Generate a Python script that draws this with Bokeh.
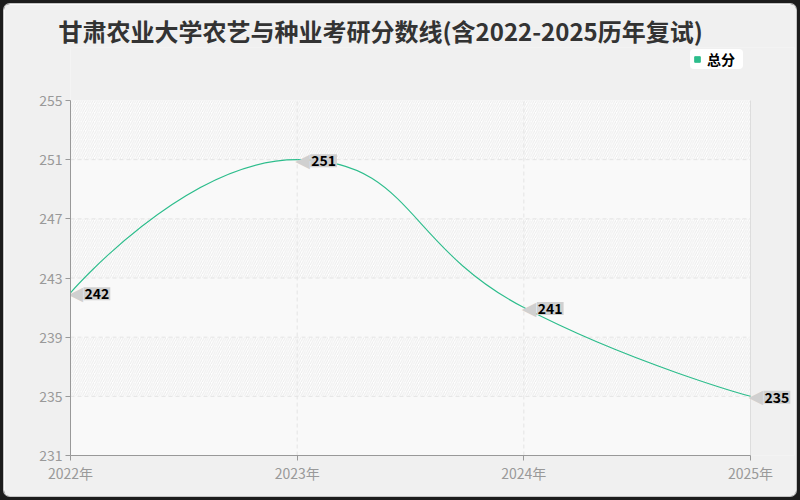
import math
from bokeh.plotting import figure
from bokeh.models import FixedTicker, Legend, LegendItem, Range1d
from bokeh.core.properties import value
from bokeh.embed import file_html
from bokeh.resources import INLINE

# ---- data ----
title_text = "甘肃农业大学农艺与种业考研分数线(含2022-2025历年复试)"
series_name = "总分"
years = [2022, 2023, 2024, 2025]
year_labels = ["2022年", "2023年", "2024年", "2025年"]
scores = [242, 251, 241, 235]
y_ticks = [231, 235, 239, 243, 247, 251, 255]
grid_y = [235, 239, 243, 247, 251]
grid_x = [2023, 2024]

# ---- layout / style ----
OFF = 4                       # dark page frame around the figure
W, H = 800 - 2 * OFF, 500 - 2 * OFF
X_LO, X_HI = 2022, 2025       # plot area (data)
Y_LO, Y_HI = 231, 255
PA_L, PA_R, PA_T, PA_B = 70, 750, 100, 455   # plot area in window pixels
FR_T, FR_R = 47, 794                        # frame extends above / right of plot area
SXPX = (PA_R - PA_L) / (X_HI - X_LO)
SYPX = (PA_B - PA_T) / (Y_HI - Y_LO)
ML = PA_L - OFF
MR = (800 - OFF) - FR_R
MT = FR_T - OFF
MB = (500 - OFF) - PA_B
XR_HI = X_HI + (FR_R - PA_R) / SXPX
YR_HI = Y_HI + (PA_T - FR_T) / SYPX

GREEN = "#2dbd8c"
FONT = "Noto Sans CJK SC"
GREY = "#999999"


def smooth_segments(xs, ys, smooth=0.5):
    """ECharts-style smoothed bezier segments, computed in pixel-proportional space."""
    P = [(x * SXPX, y * SYPX) for x, y in zip(xs, ys)]
    n = len(P)
    segs = []
    cp0 = P[0]
    for i in range(1, n):
        x, y = P[i]
        px, py = P[i - 1]
        if i == n - 1:
            cp1 = (x, y)
            ncp0 = None
        else:
            nx, ny = P[i + 1]
            vx, vy = nx - px, ny - py
            lp = math.hypot(x - px, y - py)
            ln = math.hypot(nx - x, ny - y)
            r = ln / (ln + lp)
            ncx = x + vx * smooth * r
            ncy = y + vy * smooth * r
            ncx = max(min(ncx, max(nx, x)), min(nx, x))
            ncy = max(min(ncy, max(ny, y)), min(ny, y))
            vx, vy = ncx - x, ncy - y
            c1x = x - vx * lp / ln
            c1y = y - vy * lp / ln
            c1x = max(min(c1x, max(px, x)), min(px, x))
            c1y = max(min(c1y, max(py, y)), min(py, y))
            vx, vy = x - c1x, y - c1y
            ncp0 = (x + vx * ln / lp, y + vy * ln / lp)
            cp1 = (c1x, c1y)
        segs.append((P[i - 1], cp0, cp1, P[i]))
        cp0 = ncp0
    out = {k: [] for k in ["x0", "y0", "x1", "y1", "cx0", "cy0", "cx1", "cy1"]}
    for a, c0, c1, b in segs:
        out["x0"].append(a[0] / SXPX); out["y0"].append(a[1] / SYPX)
        out["cx0"].append(c0[0] / SXPX); out["cy0"].append(c0[1] / SYPX)
        out["cx1"].append(c1[0] / SXPX); out["cy1"].append(c1[1] / SYPX)
        out["x1"].append(b[0] / SXPX); out["y1"].append(b[1] / SYPX)
    return out


p = figure(width=W, height=H, output_backend="svg", toolbar_location=None,
           x_range=Range1d(X_LO, XR_HI), y_range=Range1d(Y_LO, YR_HI),
           min_border_left=ML, min_border_right=MR, min_border_top=MT, min_border_bottom=MB)
p.styles = {"margin": f"{OFF}px", "border-radius": "6px", "overflow": "hidden",
            "box-shadow": "0 0 0 1px #c4c4c4, 0 0 0 10px #1c1c1c"}
p.border_fill_color = "#f0f0f0"
p.background_fill_color = "#f0f0f0"
p.outline_line_color = None
p.grid.visible = False

# title
p.title.text = title_text
p.title.text_font = FONT
p.title.text_font_size = "24px"
p.title.text_font_style = "bold"
p.title.text_color = "#333333"
p.title.align = "left"
p.title.offset = -12
p.title.standoff = 0

# axes
for ax in (p.xaxis[0], p.yaxis[0]):
    ax.axis_line_color = GREY
    ax.major_tick_line_color = GREY
    ax.major_tick_out = 5
    ax.major_tick_in = 0
    ax.minor_tick_line_color = None
    ax.major_label_text_color = GREY
    ax.major_label_text_font = FONT
    ax.major_label_text_font_size = "14px"
    ax.major_label_standoff = 3
p.xaxis.ticker = FixedTicker(ticks=years)
p.xaxis.major_label_overrides = dict(zip(years, year_labels))
p.xaxis.bounds = (X_LO, X_HI)
p.xaxis.major_label_standoff = 2
p.yaxis.ticker = FixedTicker(ticks=y_ticks)
p.yaxis.bounds = (Y_LO, Y_HI)

# plot area + hatched bands
p.quad(left=[X_LO], right=[X_HI], bottom=[Y_LO], top=[Y_HI],
       fill_color="#f9f9f9", line_color=None)
p.quad(left=X_LO, right=X_HI, bottom=y_ticks[1::2], top=y_ticks[2::2],
       fill_color="#ffffff", line_color=None,
       hatch_pattern="/", hatch_color="#ebebeb", hatch_scale=4.5, hatch_weight=1)

# dashed grid lines
p.segment(x0=X_LO, x1=X_HI, y0=grid_y, y1=grid_y,
          line_color="#e4e4e4", line_dash="4 3", line_width=1)
p.segment(x0=grid_x, x1=grid_x, y0=Y_LO, y1=Y_HI,
          line_color="#e4e4e4", line_dash="4 3", line_width=1)
p.segment(x0=[X_HI], x1=[X_HI], y0=[Y_LO], y1=[Y_HI],
          line_color="#dddddd", line_width=1)

# smoothed line
seg = smooth_segments(years, scores)
p.bezier(x0=seg["x0"], y0=seg["y0"], x1=seg["x1"], y1=seg["y1"],
         cx0=seg["cx0"], cy0=seg["cy0"], cx1=seg["cx1"], cy1=seg["cy1"],
         line_color=GREEN, line_width=1.1)

# legend marker renderer (invisible points)
r_leg = p.scatter(years, scores, size=0, marker="square", color=GREEN)

# callout labels
labels = [str(s) for s in scores]
p.text(x=years, y=scores, text=["◀"] * len(years), x_offset=-2, y_offset=0,
       text_align="left", text_baseline="middle", text_color="#d0d0d0",
       text_font=value("DejaVu Sans"), text_font_size="19px")
p.text(x=years, y=scores, text=labels, x_offset=13, y_offset=1,
       text_align="left", text_baseline="middle", text_color="#000000",
       text_font=value(FONT), text_font_size="14px", text_font_style="bold",
       background_fill_color="#d0d0d0", padding=1)

legend = Legend(items=[LegendItem(label=series_name, renderers=[r_leg])],
                location=(620, 386), orientation="horizontal",
                background_fill_color="#ffffff", background_fill_alpha=1,
                border_line_color=None, border_radius=4,
                padding=4, margin=0, spacing=0,
                glyph_width=14, glyph_height=14, label_standoff=3,
                label_text_font=FONT, label_text_font_size="14px",
                label_text_font_style="bold", label_text_color="#000000",
                label_height=14, label_width=36)
p.add_layout(legend, "center")

open("out.html", "w").write(file_html(p, INLINE))
